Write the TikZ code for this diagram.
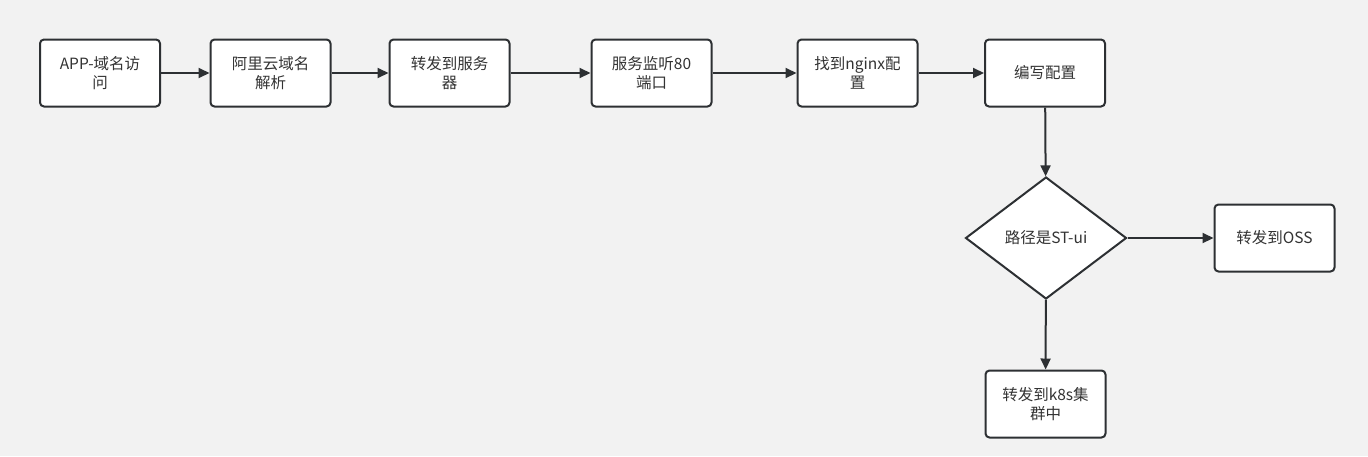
\documentclass[tikz,border=0pt]{standalone}
\usepackage{fontspec}
\setmainfont{Noto Sans CJK SC}
\usetikzlibrary{arrows.meta,shapes.geometric}
\definecolor{bg}{HTML}{F2F2F2}
\definecolor{ln}{HTML}{2D3033}
\definecolor{tx}{HTML}{333333}
\tikzset{
  stepbox/.style={draw=ln, line width=2pt, fill=white, rounded corners=4pt,
    minimum width=120pt, minimum height=67pt, align=center, text=tx,
    font=\fontsize{15.5pt}{19pt}\selectfont, inner sep=2pt},
  decision/.style={draw=ln, line width=2pt, fill=white, diamond, aspect=1.32,
    minimum width=161pt, minimum height=122pt, text=tx, inner sep=0pt,
    font=\fontsize{15.5pt}{19pt}\selectfont},
  conn/.style={draw=ln, line width=2pt, -{Triangle[length=11pt,width=10pt]}}
}
\begin{document}
\begin{tikzpicture}[x=1pt,y=-1pt]
\fill[bg] (0,0) rectangle (1368,456);
\useasboundingbox (0,0) rectangle (1368,456);
\node[stepbox] (a) at (100,73) {APP-域名访\\问};
\node[stepbox] (b) at (270.5,73) {阿里云域名\\解析};
\node[stepbox] (c) at (449.5,73) {转发到服务\\器};
\node[stepbox] (d) at (651.5,73) {服务监听80\\端口};
\node[stepbox] (e) at (857.5,73) {找到nginx配\\置};
\node[stepbox] (f) at (1045,73) {编写配置};
\node[decision] (g) at (1046,238) {路径是ST-ui};
\node[stepbox] (h) at (1274.5,238) {转发到OSS};
\node[stepbox] (i) at (1045.5,404) {转发到k8s集\\群中};
\draw[conn] (a) -- (b);
\draw[conn] (b) -- (c);
\draw[conn] (c) -- (d);
\draw[conn] (d) -- (e);
\draw[conn] (e) -- (f);
\draw[conn] (f) -- (g);
\draw[conn] (g) -- (h);
\draw[conn] (g) -- (i);
\end{tikzpicture}
\end{document}
